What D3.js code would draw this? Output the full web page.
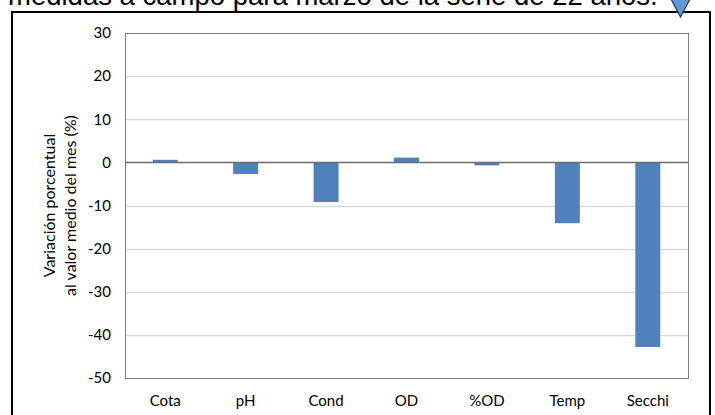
<!DOCTYPE html>
<html lang="es">
<head>
    <meta charset="UTF-8">
    <title>Variación porcentual</title>
    <style>
        body {
            margin: 0;
            background: #fff;
        }

        #chart {
            width: 715px;
            height: 415px;
            overflow: hidden;
        }
    </style>
</head>
<body>

<div id="chart"></div>

<script src="https://cdn.jsdelivr.net/npm/d3@7"></script>
<script>
    // datos
    var categorias = ["Cota", "pH", "Cond", "OD", "%OD", "Temp", "Secchi"];
    var valores = [0.6, -2.7, -9.2, 1.1, -0.7, -14.1, -42.8];
    var ticksY = [30, 20, 10, 0, -10, -20, -30, -40, -50];

    var W = 715, H = 415;
    var margen = {left: 125, right: 27, top: 33, bottom: 37};

    var svg = d3.select("#chart").append("svg")
        .attr("width", W)
        .attr("height", H);

    // texto cortado arriba
    svg.append("text")
        .attr("x", 8)
        .attr("y", 5)
        .attr("font-family", "Liberation Sans, Arial, sans-serif")
        .attr("font-size", "27.5px")
        .attr("fill", "#000")
        .text("medidas a campo para marzo de la serie de 22 años.");

    // marco exterior
    svg.append("rect")
        .attr("x", 12)
        .attr("y", 12)
        .attr("width", 698)
        .attr("height", 430)
        .attr("fill", "none")
        .attr("stroke", "#000")
        .attr("stroke-width", 2);

    // triangulo
    svg.append("path")
        .attr("d", "M671,-1 L690,-1 L680.5,17 Z")
        .attr("fill", "#5b9bd5")
        .attr("stroke", "#1d3550")
        .attr("stroke-width", 1.2);

    var x = d3.scaleBand()
        .domain(categorias)
        .range([margen.left, W - margen.right])
        .paddingInner(0.69)
        .paddingOuter(0.345);

    var y = d3.scaleLinear()
        .domain([-50, 30])
        .range([H - margen.bottom, margen.top]);

    // lineas de division
    svg.append("g")
        .selectAll("line")
        .data(ticksY.filter(function (d) { return d !== 0 && d !== 30 && d !== -50; }))
        .enter()
        .append("line")
        .attr("x1", margen.left)
        .attr("x2", W - margen.right)
        .attr("y1", function (d) { return Math.round(y(d)) + 0.5; })
        .attr("y2", function (d) { return Math.round(y(d)) + 0.5; })
        .attr("stroke", "#d9d9d9")
        .attr("stroke-width", 1.3);

    // borde del area de trazado
    svg.append("rect")
        .attr("x", margen.left + 0.5)
        .attr("y", Math.round(y(30)) + 0.5)
        .attr("width", W - margen.right - margen.left)
        .attr("height", Math.round(y(-50)) - Math.round(y(30)))
        .attr("fill", "none")
        .attr("stroke", "#7f7f7f")
        .attr("stroke-width", 1);

    // barras
    svg.append("g")
        .selectAll("rect")
        .data(valores)
        .enter()
        .append("rect")
        .attr("x", function (d, i) { return x(categorias[i]); })
        .attr("width", x.bandwidth())
        .attr("y", function (d) { return y(Math.max(0, d)); })
        .attr("height", function (d) { return Math.abs(y(d) - y(0)); })
        .attr("fill", "#4f81bd");

    // linea del cero
    svg.append("line")
        .attr("x1", margen.left)
        .attr("x2", W - margen.right)
        .attr("y1", y(0))
        .attr("y2", y(0))
        .attr("stroke", "#6b6b6b")
        .attr("stroke-width", 1.5);

    // eje y
    var ejeY = d3.axisLeft(y)
        .tickValues(ticksY)
        .tickSize(0)
        .tickPadding(14)
        .tickFormat(function (d) { return String(d); });

    var gy = svg.append("g")
        .attr("transform", "translate(" + margen.left + ",0)")
        .call(ejeY);
    gy.select(".domain").remove();
    gy.selectAll("text")
        .attr("font-family", "Lato, sans-serif")
        .attr("font-size", "15px")
        .attr("fill", "#000");

    // eje x
    var ejeX = d3.axisBottom(x)
        .tickSize(0)
        .tickPadding(17);

    var gx = svg.append("g")
        .attr("transform", "translate(0," + y(-50) + ")")
        .call(ejeX);
    gx.select(".domain").remove();
    gx.selectAll("text")
        .attr("font-family", "Lato, sans-serif")
        .attr("font-size", "15px")
        .attr("fill", "#000");

    // titulo eje y
    var cy = (y(30) + y(-50)) / 2;
    var titulo = svg.append("text")
        .attr("transform", "translate(55," + cy + ") rotate(-90)")
        .attr("text-anchor", "middle")
        .attr("font-family", "Lato, sans-serif")
        .attr("font-size", "16px")
        .attr("fill", "#000");
    titulo.append("tspan")
        .attr("x", 0)
        .attr("y", 0)
        .text("Variación porcentual");
    titulo.append("tspan")
        .attr("x", 0)
        .attr("y", 21)
        .text("al valor medio del mes (%)");
</script>
</body>
</html>
